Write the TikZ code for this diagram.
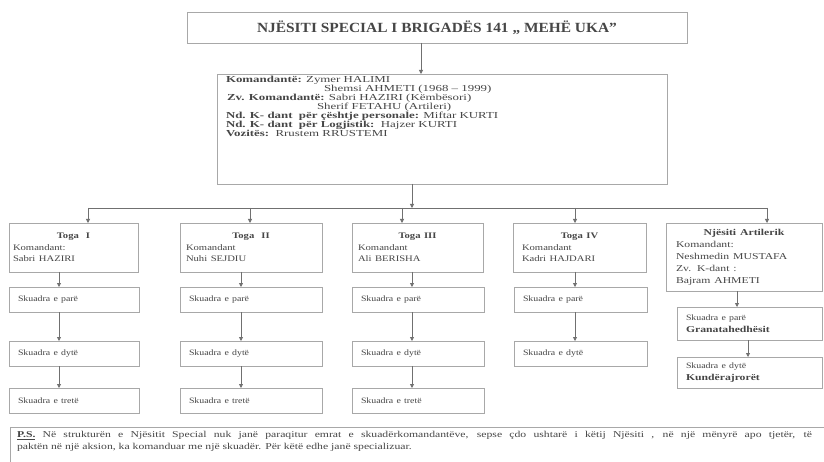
\documentclass[tikz,border=0pt]{standalone}
\usepackage{fontspec}
\usepackage{graphicx}
\setmainfont{Liberation Serif}
\usetikzlibrary{arrows.meta}
\definecolor{txt}{HTML}{464646}
\definecolor{boxc}{HTML}{A8A8A8}
\definecolor{linec}{HTML}{707070}
\newcommand\HStr[2]{\scalebox{#1}[1]{#2}}
\newcommand\TG[1]{\HStr{1.25}{#1}}
\newcommand\CM[1]{\HStr{1.4}{#1}}
\newcommand\AR[1]{\HStr{1.3}{#1}}
\begin{document}
\begin{tikzpicture}[x=1pt,y=-1pt,
  box/.style={draw=boxc, line width=0.9pt, rectangle, inner sep=0pt, outer sep=0pt, anchor=north west, text=txt},
  togabox/.style={box, inner xsep=6pt, align=left, font=\fontsize{8.5}{11.5}\selectfont},
  sqbox/.style={box, inner xsep=9pt, align=left, font=\fontsize{8.2}{11.5}\selectfont},
  conn/.style={draw=linec, line width=0.8pt},
  arr/.style={conn, -{Triangle[length=4pt,width=4pt]}},
  plain/.style={inner sep=0pt, outer sep=0pt, anchor=north west, text=txt}
]
\useasboundingbox[fill=white] (0,0) rectangle (824,462);

% title
\node[box, minimum width=500pt, minimum height=31pt, font=\bfseries\fontsize{14}{16}\selectfont] (top) at (187,12) {\HStr{1.1}{NJËSITI SPECIAL I BRIGADËS 141 „ MEHË UKA”}};

% command box
\node[box, minimum width=450pt, minimum height=110pt] (cmd) at (217,74) {};
\node[plain, align=left, font=\fontsize{9.2}{9}\selectfont] (cmdtext) at (226,76) {%
\CM{\textbf{Komandantë:} Zymer HALIMI}\\
\hspace*{98pt}\CM{Shemsi AHMETI (1968 – 1999)}\\
\hspace*{1pt}\CM{\textbf{Zv. Komandantë:} Sabri HAZIRI (Këmbësori)}\\
\hspace*{91pt}\CM{Sherif FETAHU (Artileri)}\\
\CM{\textbf{Nd. K- dant\ \ për çështje personale:} Miftar KURTI}\\
\CM{\textbf{Nd. K- dant\ \ për Logjistik:}\ \ Hajzer KURTI}\\
\CM{\textbf{Vozitës:}\ \ Rrustem RRUSTEMI}};

% toga boxes
\node[togabox, inner xsep=4pt, minimum width=129pt, minimum height=49pt, text width=121pt] (t1) at (9,223)
  {\makebox[121pt]{\TG{\textbf{Toga\ \ I}}}\\\TG{Komandant:}\\\TG{Sabri HAZIRI}};
\node[togabox, minimum width=142pt, minimum height=49pt, text width=130pt] (t2) at (180,223)
  {\makebox[130pt]{\TG{\textbf{Toga\ \ II}}}\\\TG{Komandant}\\\TG{Nuhi SEJDIU}};
\node[togabox, minimum width=131pt, minimum height=49pt, text width=119pt] (t3) at (352,223)
  {\makebox[119pt]{\TG{\textbf{Toga III}}}\\\TG{Komandant}\\\TG{Ali BERISHA}};
\node[togabox, inner xsep=9pt, minimum width=133pt, minimum height=49pt, text width=115pt] (t4) at (513,223)
  {\makebox[115pt]{\TG{\textbf{Toga IV}}}\\\TG{Komandant}\\\TG{Kadri HAJDARI}};
\node[togabox, inner xsep=10pt, minimum width=156pt, minimum height=68pt, text width=136pt, font=\fontsize{9}{12}\selectfont] (t5) at (666,223)
  {\makebox[136pt]{\AR{\textbf{Njësiti Artilerik}}}\\\AR{Komandant:}\\\AR{Neshmedin MUSTAFA}\\\AR{Zv. K-dant :}\\\AR{Bajram AHMETI}};

% squads
\node[sqbox, minimum width=130pt, minimum height=25pt, text width=112pt] (s11) at (9,287) {\HStr{1.2}{Skuadra e parë}};
\node[sqbox, minimum width=130pt, minimum height=25pt, text width=112pt] (s12) at (9,341) {\HStr{1.2}{Skuadra e dytë}};
\node[sqbox, minimum width=130pt, minimum height=25pt, text width=112pt] (s13) at (9,388) {\HStr{1.2}{Skuadra e tretë}};
\node[sqbox, minimum width=142pt, minimum height=25pt, text width=124pt] (s21) at (180,287) {\HStr{1.2}{Skuadra e parë}};
\node[sqbox, minimum width=142pt, minimum height=25pt, text width=124pt] (s22) at (180,341) {\HStr{1.2}{Skuadra e dytë}};
\node[sqbox, minimum width=142pt, minimum height=25pt, text width=124pt] (s23) at (180,388) {\HStr{1.2}{Skuadra e tretë}};
\node[sqbox, minimum width=132pt, minimum height=25pt, text width=114pt] (s31) at (352,287) {\HStr{1.2}{Skuadra e parë}};
\node[sqbox, minimum width=132pt, minimum height=25pt, text width=114pt] (s32) at (352,341) {\HStr{1.2}{Skuadra e dytë}};
\node[sqbox, minimum width=132pt, minimum height=25pt, text width=114pt] (s33) at (352,388) {\HStr{1.2}{Skuadra e tretë}};
\node[sqbox, minimum width=133pt, minimum height=25pt, text width=115pt] (s41) at (514,287) {\HStr{1.2}{Skuadra e parë}};
\node[sqbox, minimum width=133pt, minimum height=25pt, text width=115pt] (s42) at (514,341) {\HStr{1.2}{Skuadra e dytë}};
\node[sqbox, minimum width=145pt, minimum height=33pt, text width=127pt, font=\fontsize{8.2}{12.5}\selectfont] (s51) at (677,307) {\HStr{1.2}{Skuadra e parë}\\\AR{\fontsize{9}{12.5}\selectfont\textbf{Granatahedhësit}}};
\node[sqbox, minimum width=145pt, minimum height=31pt, text width=127pt, font=\fontsize{8.2}{12.5}\selectfont] (s52) at (677,357) {\HStr{1.2}{Skuadra e dytë}\\\AR{\fontsize{9}{12.5}\selectfont\textbf{Kundërajrorët}}};

% P.S.
\node[box, minimum width=820pt, minimum height=40pt] (ps) at (10,427) {};
\node[plain, align=left, font=\fontsize{9}{12}\selectfont] (pstext) at (17,431) {%
\AR{\makebox[611.5pt][s]{\underline{\textbf{P.S.}} Në strukturën e Njësitit Special nuk janë paraqitur emrat e skuadërkomandantëve, sepse çdo ushtarë i këtij Njësiti , në një mënyrë apo tjetër, të}}\\
\AR{paktën në një aksion, ka komanduar me një skuadër. Për këtë edhe janë specializuar.}};

% connector points
\coordinate (ttap) at (421,43);
\coordinate (ctap) at (412,184);
\coordinate (bc) at (412,208);
\coordinate (b1) at (88,208);
\coordinate (b2) at (250,208);
\coordinate (b3) at (402,208);
\coordinate (b4) at (575,208);
\coordinate (b5) at (767,208);
\coordinate (v1) at (59,0);
\coordinate (v2) at (241,0);
\coordinate (v3) at (412,0);
\coordinate (v4) at (575,0);
\coordinate (v5) at (737,0);
\coordinate (v6) at (748,0);

\draw[arr] (ttap) -- (ttap |- cmd.north);
\draw[arr] (ctap) -- (bc);
\draw[conn] (b1) -- (b5);
\foreach \i in {1,...,5} { \draw[arr] (b\i) -- (b\i |- t\i.north); }

\draw[arr] (v1 |- t1.south) -- (v1 |- s11.north);
\draw[arr] (v1 |- s11.south) -- (v1 |- s12.north);
\draw[arr] (v1 |- s12.south) -- (v1 |- s13.north);
\draw[arr] (v2 |- t2.south) -- (v2 |- s21.north);
\draw[arr] (v2 |- s21.south) -- (v2 |- s22.north);
\draw[arr] (v2 |- s22.south) -- (v2 |- s23.north);
\draw[arr] (v3 |- t3.south) -- (v3 |- s31.north);
\draw[arr] (v3 |- s31.south) -- (v3 |- s32.north);
\draw[arr] (v3 |- s32.south) -- (v3 |- s33.north);
\draw[arr] (v4 |- t4.south) -- (v4 |- s41.north);
\draw[arr] (v4 |- s41.south) -- (v4 |- s42.north);
\draw[arr] (v5 |- t5.south) -- (v5 |- s51.north);
\draw[arr] (v6 |- s51.south) -- (v6 |- s52.north);
\end{tikzpicture}
\end{document}
